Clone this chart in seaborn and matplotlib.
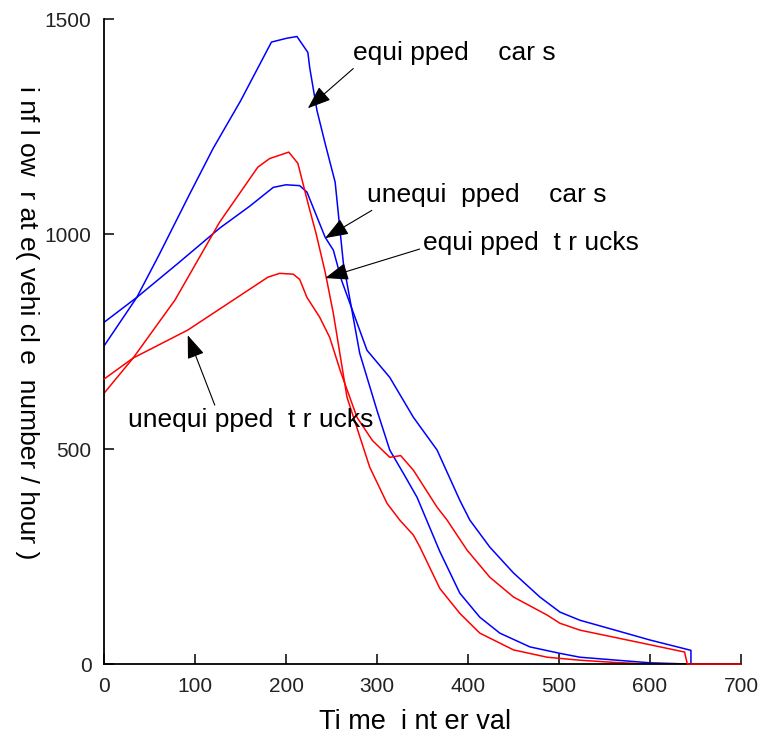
"""Inflow rate of equipped / unequipped cars and trucks over time."""

import matplotlib
matplotlib.use("Agg")
import matplotlib.pyplot as plt
import seaborn as sns

# equipped cars (blue, highest peak)
eq_cars_x = [0, 36, 60, 94, 120, 150, 184, 201, 212, 224, 226, 234, 243, 254, 263,
             281, 300, 314, 330, 344, 369, 391, 413, 435, 468, 501, 523, 570, 600, 645]
eq_cars_y = [740, 853, 950, 1093, 1200, 1310, 1447, 1456, 1460, 1423, 1388, 1288, 1211,
             1121, 933, 723, 590, 498, 440, 388, 262, 165, 109, 72, 40, 25, 16, 8, 3, 0]

# unequipped cars (blue)
uneq_cars_x = [0, 36, 80, 127, 160, 186, 200, 215, 223, 243, 252, 261, 289, 314, 340,
               366, 391, 402, 424, 450, 479, 501, 523, 560, 600, 645, 645]
uneq_cars_y = [795, 853, 930, 1014, 1065, 1109, 1115, 1113, 1098, 993, 963, 893, 730,
               667, 574, 498, 381, 335, 272, 212, 156, 121, 102, 80, 56, 32, 0]

# equipped trucks (red, high peak)
eq_trucks_x = [0, 32, 78, 127, 169, 182, 203, 213, 225, 233, 243, 252, 267, 292, 311,
               325, 340, 347, 369, 391, 413, 450, 487, 523, 560, 600, 645]
eq_trucks_y = [630, 712, 847, 1028, 1156, 1176, 1191, 1165, 1065, 1002, 912, 816, 621,
               458, 374, 335, 300, 273, 176, 118, 72, 33, 16, 9, 4, 0, 0]

# unequipped trucks (red)
uneq_trucks_x = [0, 32, 92, 150, 180, 193, 208, 215, 223, 237, 248, 260, 278, 295, 314,
                 326, 340, 366, 377, 399, 424, 450, 487, 501, 523, 600, 638, 641, 700]
uneq_trucks_y = [663, 712, 777, 858, 900, 909, 907, 895, 853, 807, 760, 680, 574, 520,
                 481, 485, 451, 365, 335, 265, 202, 156, 114, 95, 79, 45, 28, 0, 0]

x_ticks = [0, 100, 200, 300, 400, 500, 600, 700]
y_ticks = [0, 500, 1000, 1500]

sns.set_style("ticks")
plt.rcParams["font.family"] = ["Liberation Sans", "DejaVu Sans"]
plt.rcParams["text.color"] = "black"
plt.rcParams["axes.labelcolor"] = "black"

fig = plt.figure(figsize=(7.61, 7.42), dpi=100)
ax = fig.add_axes([0.1367, 0.105, 0.837, 0.869])

blue = "#0000ff"
red = "#ff0000"
sns.lineplot(x=eq_cars_x, y=eq_cars_y, color=blue, lw=1.1, sort=False, estimator=None, ax=ax)
sns.lineplot(x=uneq_cars_x, y=uneq_cars_y, color=blue, lw=1.1, sort=False, estimator=None, ax=ax)
sns.lineplot(x=eq_trucks_x, y=eq_trucks_y, color=red, lw=1.1, sort=False, estimator=None, ax=ax)
sns.lineplot(x=uneq_trucks_x, y=uneq_trucks_y, color=red, lw=1.1, sort=False,
             estimator=None, ax=ax, zorder=5, clip_on=False)

ax.set_xlim(0, 700)
ax.set_ylim(0, 1500)
ax.set_xticks(x_ticks)
ax.set_yticks(y_ticks)
ax.tick_params(direction="in", length=7, width=1.1, labelsize=15, pad=9,
               colors="black", labelcolor="#222222")
for sp in ["left", "bottom"]:
    ax.spines[sp].set_linewidth(1.3)
    ax.spines[sp].set_color("black")
sns.despine(ax=ax)

ax.set_xlabel("Ti me  i nt er val", fontsize=19.5, va="center")
ax.xaxis.set_label_coords(0.488, -0.09)
ax.set_ylabel("i nf l ow  r at e( vehi cl e  number / hour )", fontsize=19,
              rotation=270, va="center", ha="center")
ax.yaxis.set_label_coords(-0.121, 0.53)

arrow = dict(arrowstyle="-|>,head_length=0.8,head_width=0.3", color="black",
             lw=0.8, mutation_scale=18, shrinkA=0, shrinkB=0)
notes = [
    ("equi pped    car s", (224, 1293), (273.6, 1421), (0.02, 0.0)),
    ("unequi  pped    car s", (243, 991), (289, 1091), (0.06, 0.1)),
    ("equi pped  t r ucks", (243, 898), (350.5, 979), (0.0, 0.3)),
    ("unequi pped  t r ucks", (92, 765), (26, 567), (0.36, 1.0)),
]
for label, tip, pos, rel in notes:
    ax.annotate(label, xy=tip, xytext=pos, fontsize=19, ha="left", va="center",
                arrowprops=dict(arrow, relpos=rel), zorder=10)

fig.savefig("out.png", dpi=100)
